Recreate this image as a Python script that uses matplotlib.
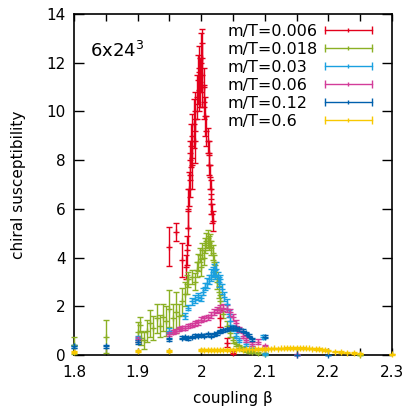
import numpy as np
import matplotlib
matplotlib.use("Agg")
import matplotlib.pyplot as plt

# m/T = 0.006
beta_006 = [1.950, 1.960, 1.970, 1.976, 1.978, 1.979, 1.980, 1.981, 1.982, 1.983,
            1.984, 1.985, 1.986, 1.988, 1.990, 1.991, 1.993, 1.995, 1.996, 1.997,
            1.998, 2.000, 2.001, 2.002, 2.004, 2.005, 2.006, 2.008, 2.010, 2.012,
            2.013, 2.014, 2.015, 2.016, 2.017, 2.018, 2.030, 2.040, 2.050]
chi_006 = [4.45, 5.05, 3.90, 3.60, 4.30, 5.20, 6.00, 6.80, 7.40, 8.00,
           8.60, 7.80, 9.00, 9.50, 8.80, 10.0, 10.6, 11.3, 10.8, 11.8,
           11.2, 12.0, 11.5, 12.2, 11.0, 10.4, 9.80, 9.20, 8.80, 8.30,
           7.80, 7.30, 6.80, 6.20, 5.80, 5.50, 1.50, 0.50, 0.10]
err_006 = [0.80, 0.35, 0.70, 0.50, 0.60, 0.70, 0.80, 0.70, 0.90, 0.80,
           0.90, 1.00, 0.90, 1.00, 0.90, 0.80, 0.90, 1.00, 0.80, 0.90,
           1.00, 1.20, 1.30, 1.20, 0.80, 0.70, 0.80, 0.60, 0.50, 0.50,
           0.40, 0.50, 0.40, 0.40, 0.40, 0.40, 0.35, 0.18, 0.05]

# m/T = 0.018
beta_018 = [1.800, 1.850, 1.900, 1.903, 1.906, 1.910, 1.915, 1.920, 1.925, 1.930,
            1.935, 1.940, 1.945, 1.950, 1.955, 1.960, 1.965, 1.970, 1.975, 1.978,
            1.980, 1.985, 1.990, 1.993, 1.995, 1.998, 2.000, 2.002, 2.004, 2.006,
            2.008, 2.010, 2.012, 2.014, 2.016, 2.018, 2.020, 2.022, 2.025, 2.028,
            2.030, 2.035, 2.040, 2.045, 2.050, 2.055, 2.060, 2.065, 2.070, 2.075,
            2.080, 2.090, 2.100, 2.250]
chi_018 = [0.40, 0.75, 0.95, 1.25, 0.70, 0.60, 1.00, 1.30, 1.10, 1.50,
           1.20, 1.55, 1.40, 1.90, 1.50, 1.75, 1.60, 2.20, 2.50, 2.90,
           3.10, 3.20, 3.00, 3.50, 3.80, 4.10, 3.60, 4.30, 4.00, 4.50,
           4.70, 4.80, 4.60, 4.70, 4.40, 4.20, 3.80, 3.40, 3.00, 2.60,
           2.20, 1.70, 1.20, 0.90, 0.60, 0.45, 0.35, 0.25, 0.20, 0.15,
           0.12, 0.08, 0.05, 0.01]
err_018 = [0.35, 0.68, 0.40, 0.30, 0.30, 0.35, 0.45, 0.55, 0.50, 0.60,
           0.45, 0.55, 0.60, 0.75, 0.60, 0.85, 0.50, 0.55, 0.50, 0.40,
           0.30, 0.30, 0.35, 0.30, 0.35, 0.30, 0.35, 0.30, 0.30, 0.30,
           0.30, 0.35, 0.30, 0.25, 0.30, 0.30, 0.30, 0.30, 0.30, 0.25,
           0.25, 0.20, 0.20, 0.15, 0.12, 0.10, 0.08, 0.08, 0.06, 0.05,
           0.05, 0.04, 0.03, 0.01]

# m/T = 0.03
beta_03 = [1.800, 1.900, 1.950, 1.975, 1.980, 1.985, 1.990, 1.995, 2.000, 2.003,
           2.006, 2.009, 2.012, 2.015, 2.018, 2.020, 2.022, 2.024, 2.026, 2.028,
           2.030, 2.033, 2.036, 2.040, 2.043, 2.046, 2.050, 2.055, 2.060, 2.070,
           2.080, 2.097, 2.100]
chi_03 = [0.35, 0.70, 1.00, 1.60, 1.95, 2.20, 2.30, 2.40, 2.35, 2.60,
          2.80, 2.95, 3.10, 3.30, 3.40, 3.50, 3.30, 3.55, 3.20, 3.00,
          3.10, 2.70, 2.40, 2.10, 1.70, 1.40, 1.10, 0.80, 0.60, 0.45,
          0.30, 0.75, 0.05]
err_03 = [0.08, 0.08, 0.10, 0.12, 0.12, 0.15, 0.15, 0.15, 0.12, 0.15,
          0.15, 0.20, 0.20, 0.25, 0.20, 0.25, 0.20, 0.25, 0.20, 0.20,
          0.20, 0.20, 0.20, 0.20, 0.15, 0.15, 0.12, 0.10, 0.08, 0.08,
          0.06, 0.08, 0.03]

# m/T = 0.06
beta_06 = [1.900, 1.950, 1.955, 1.960, 1.965, 1.970, 1.975, 1.980, 1.985, 1.990,
           1.995, 2.000, 2.005, 2.010, 2.015, 2.020, 2.025, 2.030, 2.035, 2.040,
           2.045, 2.050, 2.055, 2.060, 2.065, 2.070, 2.080, 2.090, 2.100, 2.150]
chi_06 = [0.65, 0.85, 0.95, 1.00, 1.05, 1.10, 1.10, 1.20, 1.25, 1.30,
          1.35, 1.45, 1.50, 1.55, 1.65, 1.75, 1.85, 1.90, 1.95, 1.90,
          1.75, 1.55, 1.30, 1.05, 0.80, 0.60, 0.45, 0.55, 0.35, 0.02]
err_06 = [0.10, 0.08, 0.08, 0.08, 0.08, 0.08, 0.08, 0.08, 0.08, 0.10,
          0.10, 0.10, 0.10, 0.10, 0.12, 0.12, 0.12, 0.15, 0.15, 0.15,
          0.15, 0.15, 0.12, 0.12, 0.10, 0.08, 0.08, 0.10, 0.08, 0.01]

# m/T = 0.12
beta_12 = [1.800, 1.850, 1.900, 1.950, 1.970, 1.975, 1.980, 1.985, 1.990, 1.995,
           2.000, 2.005, 2.010, 2.015, 2.020, 2.025, 2.030, 2.035, 2.040, 2.045,
           2.050, 2.055, 2.060, 2.065, 2.070, 2.075, 2.080, 2.100, 2.150, 2.200]
chi_12 = [0.35, 0.35, 0.55, 0.65, 0.70, 0.72, 0.68, 0.75, 0.80, 0.78,
          0.82, 0.80, 0.85, 0.80, 0.85, 0.90, 0.98, 1.02, 1.05, 1.10,
          1.12, 1.10, 1.05, 1.00, 0.90, 0.80, 0.65, 0.75, 0.01, 0.01]
err_12 = [0.08, 0.06, 0.08, 0.06, 0.06, 0.05, 0.05, 0.05, 0.06, 0.05,
          0.06, 0.05, 0.06, 0.05, 0.06, 0.06, 0.06, 0.06, 0.06, 0.06,
          0.06, 0.06, 0.06, 0.06, 0.06, 0.06, 0.06, 0.06, 0.01, 0.01]

# m/T = 0.6
beta_6 = [1.800, 1.900, 1.950, 2.000, 2.005, 2.010, 2.015, 2.020, 2.025, 2.030,
          2.035, 2.040, 2.045, 2.050, 2.055, 2.060, 2.065, 2.070, 2.075, 2.080,
          2.085, 2.090, 2.095, 2.100, 2.105, 2.110, 2.115, 2.120, 2.125, 2.130,
          2.135, 2.140, 2.145, 2.150, 2.155, 2.160, 2.165, 2.170, 2.175, 2.180,
          2.185, 2.190, 2.195, 2.200, 2.210, 2.220, 2.230, 2.240, 2.250, 2.300]
chi_6 = [0.12, 0.18, 0.18, 0.20, 0.20, 0.20, 0.21, 0.20, 0.21, 0.21,
         0.22, 0.21, 0.22, 0.22, 0.22, 0.23, 0.22, 0.23, 0.23, 0.24,
         0.24, 0.24, 0.25, 0.25, 0.26, 0.26, 0.27, 0.26, 0.27, 0.27,
         0.28, 0.27, 0.28, 0.28, 0.27, 0.28, 0.27, 0.27, 0.26, 0.25,
         0.24, 0.22, 0.20, 0.18, 0.14, 0.12, 0.10, 0.08, 0.06, 0.03]
err_6 = [0.04] * 3 + [0.03] * 47

series = [
    ("m/T=0.006", beta_006, chi_006, err_006, "#e3001b"),
    ("m/T=0.018", beta_018, chi_018, err_018, "#8bb024"),
    ("m/T=0.03", beta_03, chi_03, err_03, "#1aa0e0"),
    ("m/T=0.06", beta_06, chi_06, err_06, "#d33c99"),
    ("m/T=0.12", beta_12, chi_12, err_12, "#0060ad"),
    ("m/T=0.6", beta_6, chi_6, err_6, "#f8c800"),
]

plt.rcParams['font.family'] = ['DejaVu Sans']
fig = plt.figure(figsize=(4.08, 4.08), dpi=100)
ax = fig.add_axes([74 / 408, 53 / 408, 318 / 408, 341 / 408])

for i, (label, b, c, e, col) in enumerate(series):
    ax.errorbar(b, c, yerr=e, fmt='+', color=col, ms=4, mew=1,
                elinewidth=1, capsize=2.5, capthick=1, clip_on=False, zorder=3)
    # gnuplot-like key: left aligned text, horizontal sample with caps
    ky = 0.953 - i * 0.0525
    ax.text(0.484, ky, label, transform=ax.transAxes, fontsize=11.5,
            ha='left', va='center_baseline')
    ax.plot([0.789, 0.937], [ky, ky], transform=ax.transAxes, color=col, lw=1)
    ax.plot([0.789, 0.937], [ky, ky], transform=ax.transAxes, color=col,
            ls='none', marker='|', ms=5.5, mew=1)
    ax.plot([0.863], [ky], transform=ax.transAxes, color=col,
            ls='none', marker='|', ms=3.5, mew=1)

ax.set_xlim(1.8, 2.3)
ax.set_ylim(0, 14)
ax.set_xticks([1.8, 1.9, 2.0, 2.1, 2.2, 2.3])
ax.set_xticklabels(["1.8", "1.9", "2", "2.1", "2.2", "2.3"])
ax.set_xticks(np.arange(1.85, 2.3, 0.1), minor=True)
ax.set_yticks(range(0, 15, 2))
ax.tick_params(which='both', direction='in', top=True, right=True,
               labelsize=11, width=1)
ax.tick_params(axis='x', which='both', length=5, pad=7)
ax.tick_params(axis='y', length=7, pad=6)
for s in ax.spines.values():
    s.set_linewidth(1.2)

ax.set_xlabel("coupling β", fontsize=11, labelpad=8)
ax.set_ylabel("chiral susceptibility", fontsize=11, labelpad=15)
ax.text(0.05, 0.874, "6x24$^3$", transform=ax.transAxes, fontsize=13,
        ha='left', va='baseline')

fig.savefig("out.png", dpi=100)
